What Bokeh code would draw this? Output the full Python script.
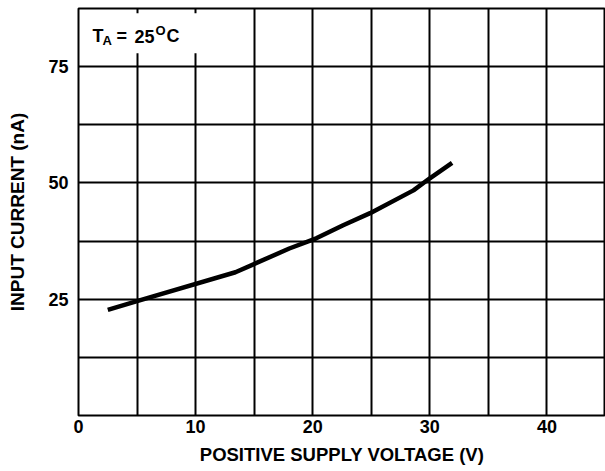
from bokeh.plotting import figure
from bokeh.models import FixedTicker, Range1d, Label, BoxAnnotation
from bokeh.embed import file_html
from bokeh.resources import INLINE

# Data
supply_voltage = [2.5, 5.0, 13.4, 18.0, 20.3, 22.6, 24.9, 28.6, 30.0, 31.9]
input_current = [22.7, 24.6, 30.8, 35.9, 38.1, 40.9, 43.5, 48.4, 51.0, 54.3]

x_tick_labels = [0, 10, 20, 30, 40]
y_tick_labels = [25, 50, 75]
x_grid = [5, 10, 15, 20, 25, 30, 35, 40]
y_grid = [12.5, 25, 37.5, 50, 62.5, 75]

FONT = "Liberation Sans"

p = figure(width=605, height=471, output_backend="svg", toolbar_location=None,
           x_range=Range1d(0, 45), y_range=Range1d(0, 87.5),
           min_border_left=78, min_border_right=0, min_border_top=8,
           min_border_bottom=56)

p.outline_line_color = "black"
p.outline_line_width = 2
p.background_fill_color = "white"
p.border_fill_color = "white"

for ax in (p.xaxis[0], p.yaxis[0]):
    ax.axis_line_color = None
    ax.major_tick_line_color = None
    ax.minor_tick_line_color = None
    ax.major_tick_out = 0
    ax.major_tick_in = 0
    ax.major_label_text_font = FONT
    ax.major_label_text_font_style = "bold"
    ax.major_label_text_font_size = "18px"
    ax.major_label_text_color = "black"
    ax.axis_label_text_font = FONT
    ax.axis_label_text_font_style = "bold"
    ax.axis_label_text_color = "black"

p.xaxis.axis_label_text_font_size = "18.5px"
p.yaxis.axis_label_text_font_size = "19px"
p.xaxis.ticker = FixedTicker(ticks=x_tick_labels)
p.yaxis.ticker = FixedTicker(ticks=y_tick_labels)
p.xaxis.major_label_standoff = 4
p.yaxis.major_label_standoff = 10
p.xaxis.axis_label = "POSITIVE SUPPLY VOLTAGE (V)"
p.yaxis.axis_label = "INPUT CURRENT (nA)"
p.xaxis.axis_label_standoff = 8
p.yaxis.axis_label_standoff = 17

p.xgrid.ticker = FixedTicker(ticks=x_grid)
p.ygrid.ticker = FixedTicker(ticks=y_grid)
for g in (p.xgrid[0], p.ygrid[0]):
    g.grid_line_color = "black"
    g.grid_line_width = 2
    g.grid_line_alpha = 1

# white box behind the condition label
p.add_layout(BoxAnnotation(left=0.15, right=11, bottom=77.9, top=86.5,
                           fill_color="white", fill_alpha=1, line_color=None,
                           level="underlay"))

p.line(supply_voltage, input_current, line_color="black", line_width=4.5,
       line_join="round")

def lab(px, py, t, size):
    # px, py: reference picture position converted to data coordinates
    x = (px - 78) / 11.711
    y = (415 - py) / 4.651
    p.add_layout(Label(x=x, y=y, text=t, text_font=FONT, text_font_style="bold",
                       text_font_size=size, text_color="black",
                       text_baseline="alphabetic", text_align="left"))

lab(92, 36, "T", "18px")
lab(102, 40, "A", "13px")
lab(116, 36, "=", "18px")
lab(134, 36, "25", "18px")
lab(155, 30, "O", "13px")
lab(166, 36, "C", "18px")

open("out.html", "w").write(file_html(p, INLINE))
